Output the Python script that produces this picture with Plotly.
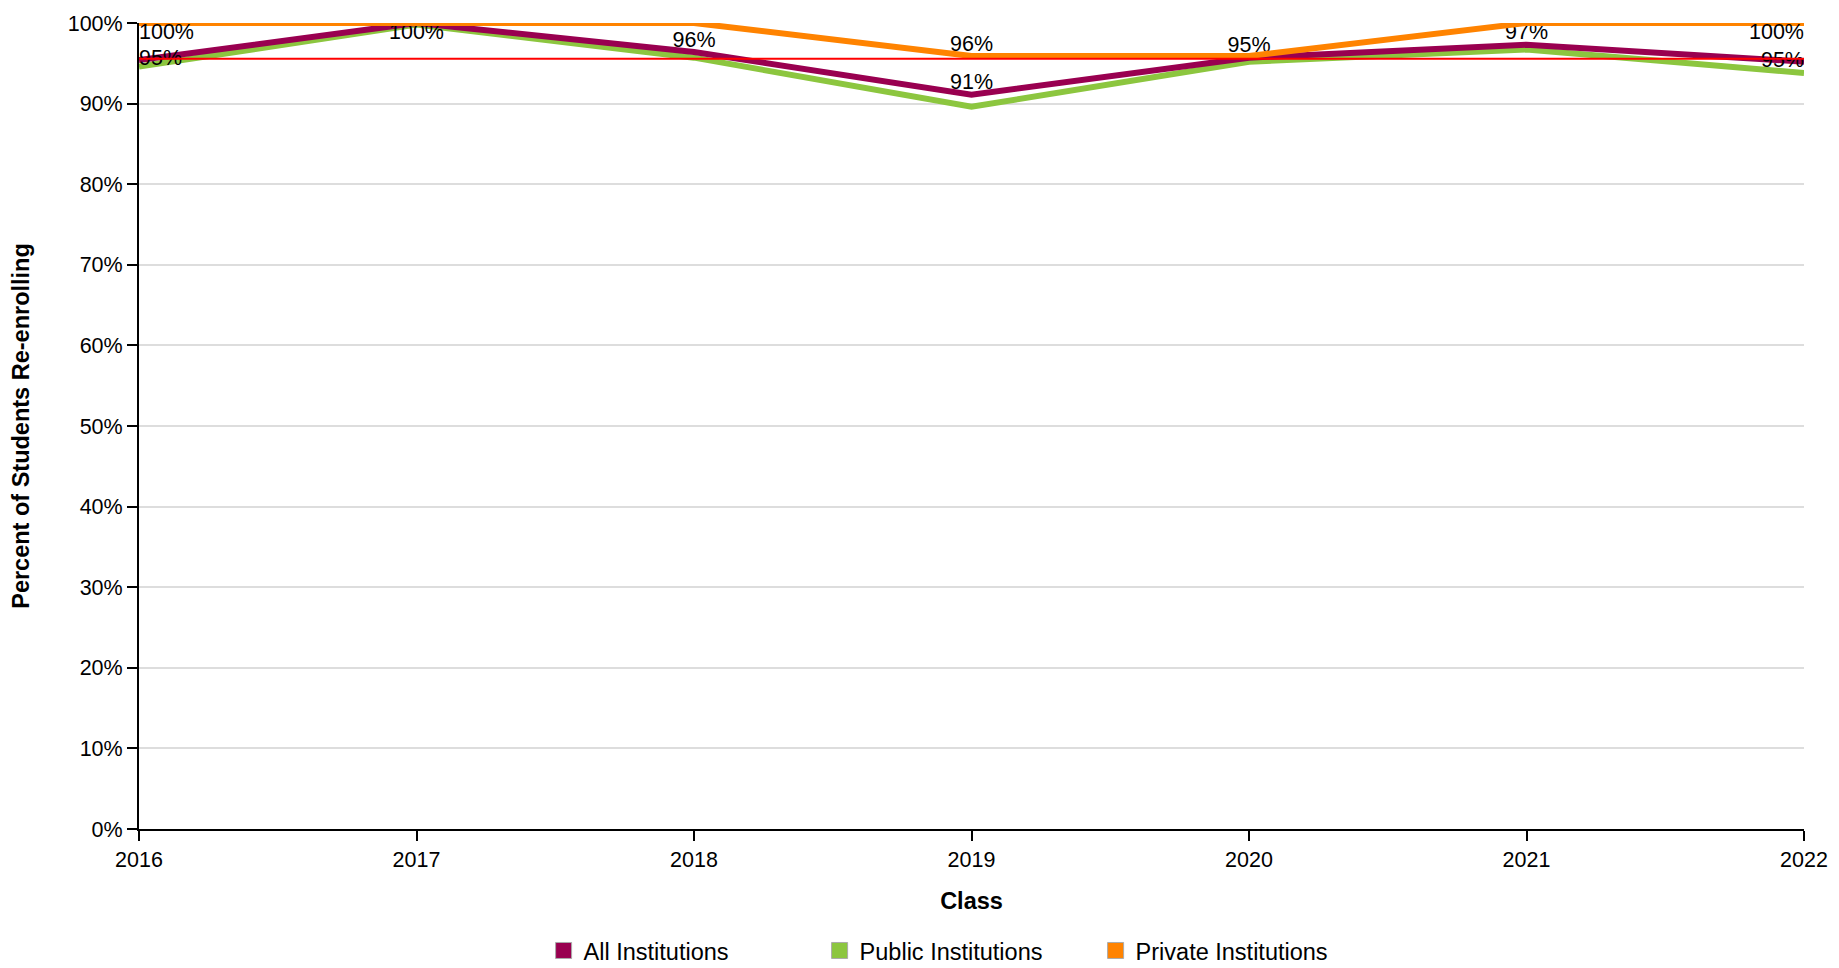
import plotly.graph_objects as go

years = [2016, 2017, 2018, 2019, 2020, 2021, 2022]
all_inst = [95.4, 100.0, 96.4, 91.1, 95.7, 97.3, 95.2]
public_inst = [94.6, 99.8, 95.7, 89.6, 95.2, 96.7, 93.8]
private_inst = [100.0, 100.0, 100.0, 95.9, 95.9, 100.0, 100.0]
reference_line = 95.55

all_labels = ["95%", "100%", "96%", "91%", "95%", "97%", "95%"]
all_label_pos = ["middle right", "bottom center", "top center", "top center",
                 "top center", "top center", "middle left"]
private_labels = ["100%", "", "", "96%", "", "", "100%"]
private_label_pos = ["bottom right", "bottom center", "bottom center", "top center",
                     "top center", "bottom center", "bottom left"]

series_names = ["All Institutions", "Public Institutions", "Private Institutions"]
colors = ["#990050", "#8cc63f", "#ff8300"]

y_ticks = [0, 10, 20, 30, 40, 50, 60, 70, 80, 90, 100]
y_tick_text = [f"{v}%" for v in y_ticks]

FONT = "Liberation Sans, Arial, Helvetica, sans-serif"

fig = go.Figure()

fig.add_trace(go.Scatter(
    x=years, y=public_inst, mode="lines", name=series_names[1],
    line=dict(color=colors[1], width=6), showlegend=False, cliponaxis=False))
fig.add_trace(go.Scatter(
    x=years, y=all_inst, mode="lines+text", name=series_names[0],
    line=dict(color=colors[0], width=6), text=all_labels,
    textposition=all_label_pos, textfont=dict(size=21.5, color="#000", family=FONT),
    showlegend=False, cliponaxis=False))
fig.add_trace(go.Scatter(
    x=years, y=private_inst, mode="lines+text", name=series_names[2],
    line=dict(color=colors[2], width=6), text=private_labels,
    textposition=private_label_pos, textfont=dict(size=21.5, color="#000", family=FONT),
    showlegend=False, cliponaxis=False))

fig.add_hline(y=reference_line, line=dict(color="#ff0000", width=2))

# legend entries (square swatches)
for name, col in zip(series_names, colors):
    fig.add_trace(go.Scatter(
        x=[None], y=[None], mode="markers", name=name,
        marker=dict(symbol="square", size=19, color=col,
                    line=dict(color="#aaaaaa", width=1))))

fig.update_layout(
    width=1839, height=968,
    margin=dict(l=131, r=43, t=15, b=147, autoexpand=False),
    paper_bgcolor="white", plot_bgcolor="white",
    font=dict(family=FONT, size=21.5, color="#000"),
    legend=dict(orientation="h", x=0.243, xanchor="left", y=-0.151,
                yanchor="middle", font=dict(size=23.5), entrywidth=231,
                entrywidthmode="pixels"),
    xaxis=dict(
        range=[2016, 2022], tickvals=years, ticktext=[str(y) for y in years],
        showgrid=False, zeroline=False, showline=True, linecolor="#000",
        linewidth=2, ticks="outside", ticklen=10, tickwidth=1.5, tickcolor="#000",
        tickfont=dict(size=21.5), automargin=False,
        title=dict(text="<b>Class</b>", font=dict(size=23.5), standoff=22)),
    yaxis=dict(
        range=[0, 100], tickvals=y_ticks, ticktext=y_tick_text,
        showgrid=True, gridcolor="#dddddd", gridwidth=1.5, zeroline=False,
        showline=True, linecolor="#000", linewidth=2, ticks="outside", ticklen=10,
        tickwidth=1.5, tickcolor="#000", tickfont=dict(size=21.5), automargin=False,
        title=dict(text="<b>Percent of Students Re-enrolling</b>",
                   font=dict(size=23.5), standoff=32)),
)

fig.write_html("out.html")
